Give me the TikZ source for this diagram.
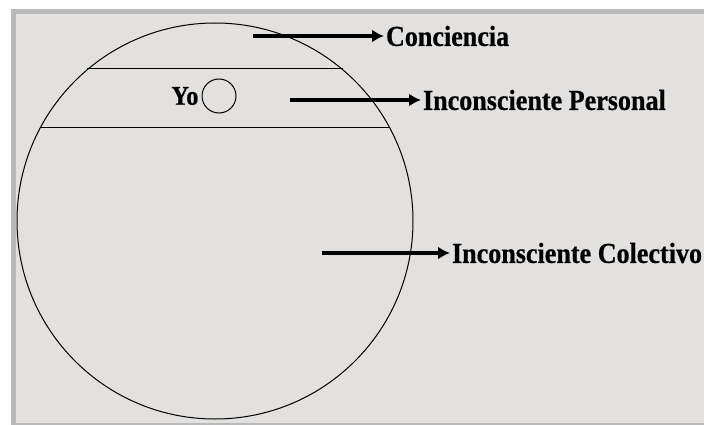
\documentclass[tikz,border=0pt]{standalone}
\usepackage{fontspec}
\setmainfont{Liberation Serif}[BoldFeatures={FakeBold=0.6}]
\usetikzlibrary{arrows.meta,positioning}
\definecolor{panel}{HTML}{E2E1DF}
\definecolor{frame}{HTML}{B9B9B9}

\begin{document}
\begin{tikzpicture}[x=1pt,y=-1pt,>={Latex[length=12pt,width=13pt]},
lbl/.style={anchor=west,inner sep=2pt,xscale=0.9,font=\bfseries\fontsize{29}{31}\selectfont},
pointer/.style={->,line width=3.5pt},
thin line/.style={line width=1pt}]
\useasboundingbox (0,0) rectangle (704,425);
\fill[frame] (11,9) rectangle (704,425);
\fill[panel] (16,14) rectangle (704,423);
\node[draw,thin line,circle,minimum size=396pt,inner sep=0pt] (psique) at (215,221) {};
\draw[thin line] (psique.130)--(psique.50);
\draw[thin line] (psique.152)--(psique.28);
\node[draw,thin line,circle,minimum size=34pt,inner sep=0pt] (ego) at (219,96) {};
\node[left=2pt of ego,inner sep=1pt,xscale=0.9,font=\bfseries\fontsize{27}{29}\selectfont] (yo) {Yo};
\coordinate (c1) at (253,36);
\coordinate (c2) at (290,100);
\coordinate (c3) at (322,253);
\node[lbl] (conc) at (384,36) {Conciencia};
\node[lbl] (pers) at (421,100) {Inconsciente Personal};
\node[lbl] (colec) at (450,253) {Inconsciente Colectivo};
\draw[pointer] (c1)--(conc.west);
\draw[pointer] (c2)--(pers.west);
\draw[pointer] (c3)--(colec.west);
\end{tikzpicture}
\end{document}
